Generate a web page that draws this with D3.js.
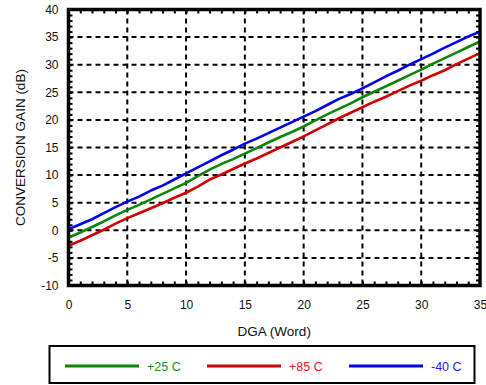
<!DOCTYPE html>
<html>
<head>
<meta charset="utf-8">
<script src="https://cdn.jsdelivr.net/npm/d3@7"></script>
<style>
	body { margin: 0; background: #fff; }
	svg text { font-family: "Liberation Sans", Arial, sans-serif; }
</style>
</head>
<body>
<svg id="chart" width="486" height="385"></svg>
<script>

var dgaWords = d3.range(0, 36);

var gain25 = [-1.3, -0.4, 0.6, 1.6, 2.7, 3.7, 4.6, 5.6, 6.6, 7.6, 8.6, 9.8, 11.0, 12.0, 12.9, 13.9, 14.9, 15.9, 16.9, 17.8,
	18.8, 19.9, 21.0, 22.0, 23.0, 24.1, 25.1, 26.1, 27.1, 28.1, 29.1, 30.2, 31.2, 32.2, 33.2, 34.2];
var gain85 = [-2.8, -1.9, -0.9, 0.1, 1.2, 2.2, 3.1, 4.0, 4.9, 5.9, 6.8, 7.9, 9.2, 10.1, 11.1, 12.1, 13.0, 14.0, 15.0, 16.0,
	17.0, 18.1, 19.2, 20.3, 21.3, 22.3, 23.3, 24.2, 25.2, 26.2, 27.1, 28.1, 29.0, 30.1, 31.1, 32.1];
var gainM40 = [0.2, 1.1, 2.0, 3.1, 4.2, 5.2, 6.1, 7.2, 8.1, 9.2, 10.3, 11.4, 12.5, 13.6, 14.6, 15.7, 16.6, 17.6, 18.6, 19.6,
	20.6, 21.6, 22.7, 23.8, 24.7, 25.7, 26.8, 27.9, 28.9, 30.0, 31.0, 32.0, 33.1, 34.1, 35.1, 36.0];

var seriesNames = ["+25 C", "+85 C", "-40 C"];
var seriesColors = ["#0a860a", "#d10000", "#0000f0"];
var textColors = ["#1f8f1f", "#e42020", "#2020f0"];

var xTicks = [0, 5, 10, 15, 20, 25, 30, 35];
var yTicks = [-10, -5, 0, 5, 10, 15, 20, 25, 30, 35, 40];


function drawChart()
{
	var svg = d3.select("#chart");

	var left = 68.5, right = 480, top = 9.5, bottom = 285.5;

	var x = d3.scaleLinear().domain([0, 35]).range([left, right]);
	var y = d3.scaleLinear().domain([-10, 40]).range([bottom, top]);

	// dashed grid
	var grid = svg.append("g");
	grid.selectAll(".vgrid")
		.data(xTicks.slice(1, -1))
		.enter()
		.append("line")
		.attr("x1", function(d) { return x(d); })
		.attr("x2", function(d) { return x(d); })
		.attr("y1", top)
		.attr("y2", bottom)
		.attr("stroke", "#000")
		.attr("stroke-width", 2)
		.attr("stroke-dasharray", "5,4");

	grid.selectAll(".hgrid")
		.data(yTicks.slice(1, -1))
		.enter()
		.append("line")
		.attr("x1", left)
		.attr("x2", right)
		.attr("y1", function(d) { return y(d); })
		.attr("y2", function(d) { return y(d); })
		.attr("stroke", "#000")
		.attr("stroke-width", 2)
		.attr("stroke-dasharray", "5,4");

	// minor ticks on every side, pointing inward
	var minorX = d3.range(1, 35);
	var minorY = d3.range(-9, 40);
	svg.append("g").attr("transform", "translate(0," + bottom + ")")
		.call(d3.axisTop(x).tickValues(minorX).tickSize(4).tickFormat(""));
	svg.append("g").attr("transform", "translate(0," + top + ")")
		.call(d3.axisBottom(x).tickValues(minorX).tickSize(4).tickFormat(""));
	svg.append("g").attr("transform", "translate(" + left + ",0)")
		.call(d3.axisRight(y).tickValues(minorY).tickSize(4).tickFormat(""));
	svg.append("g").attr("transform", "translate(" + right + ",0)")
		.call(d3.axisLeft(y).tickValues(minorY).tickSize(4).tickFormat(""));
	svg.selectAll(".domain").remove();
	svg.selectAll(".tick line").attr("stroke", "#000").attr("stroke-width", 2);

	// tick labels (plain hyphen for negatives, as in the original)
	var plain = function(d) { return String(d); };
	var xAxis = svg.append("g").attr("transform", "translate(0," + bottom + ")")
		.call(d3.axisBottom(x).tickValues(xTicks).tickSize(0).tickPadding(15).tickFormat(plain));
	var yAxis = svg.append("g").attr("transform", "translate(" + left + ",0)")
		.call(d3.axisLeft(y).tickValues(yTicks).tickSize(0).tickPadding(10).tickFormat(plain));
	[xAxis, yAxis].forEach(function(a)
	{
		a.select(".domain").remove();
		a.selectAll("text").attr("font-size", 12).attr("fill", "#111")
			.style("font-family", "'Liberation Sans', Arial, sans-serif");
	});

	// series
	var allSeries = [gain25, gain85, gainM40];
	var line = d3.line()
		.x(function(d, i) { return x(dgaWords[i]); })
		.y(function(d) { return y(d); });

	svg.append("defs").append("clipPath").attr("id", "plotClip")
		.append("rect").attr("x", left).attr("y", top)
		.attr("width", right - left).attr("height", bottom - top);

	svg.append("g").attr("clip-path", "url(#plotClip)")
		.selectAll(".series")
		.data(allSeries)
		.enter()
		.append("path")
		.attr("d", line)
		.attr("fill", "none")
		.attr("stroke", function(d, i) { return seriesColors[i]; })
		.attr("stroke-width", 2.6)
		.attr("stroke-linejoin", "round");

	// frame
	svg.append("rect")
		.attr("x", left).attr("y", top)
		.attr("width", right - left).attr("height", bottom - top)
		.attr("fill", "none")
		.attr("stroke", "#000")
		.attr("stroke-width", 3.5);

	// axis titles
	svg.append("text")
		.attr("x", (left + right) / 2)
		.attr("y", 336)
		.attr("text-anchor", "middle")
		.attr("font-size", 13.5)
		.attr("fill", "#111")
		.text("DGA (Word)");

	svg.append("text")
		.attr("transform", "translate(25," + ((top + bottom) / 2) + ") rotate(-90)")
		.attr("text-anchor", "middle")
		.attr("font-size", 13.5)
		.attr("fill", "#111")
		.text("CONVERSION GAIN (dB)");

	// legend
	var legend = svg.append("g");
	legend.append("rect")
		.attr("x", 49.5).attr("y", 346)
		.attr("width", 425).attr("height", 37)
		.attr("fill", "#fff")
		.attr("stroke", "#000")
		.attr("stroke-width", 2);

	var items = legend.selectAll(".item")
		.data(seriesNames)
		.enter()
		.append("g")
		.attr("transform", function(d, i) { return "translate(" + (65 + i * 142) + ",366)"; });

	items.append("line")
		.attr("x1", 0).attr("x2", 74)
		.attr("y1", 0).attr("y2", 0)
		.attr("stroke", function(d, i) { return seriesColors[i]; })
		.attr("stroke-width", 3);

	items.append("text")
		.attr("x", 82)
		.attr("y", 4.5)
		.attr("font-size", 12.5)
		.attr("fill", function(d, i) { return textColors[i]; })
		.text(function(d) { return d; });
}

drawChart();

</script>
</body>
</html>
